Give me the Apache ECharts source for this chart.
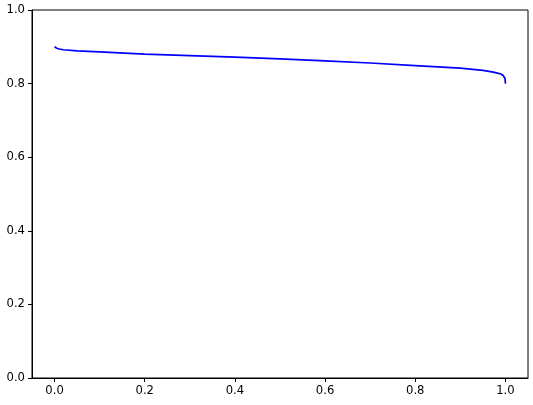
<!DOCTYPE html>
<html>
<head>
<meta charset="utf-8">
<script src="https://cdn.jsdelivr.net/npm/echarts@6/dist/echarts.min.js"></script>
<style>
html, body { margin: 0; padding: 0; background: #fff; }
#main { width: 533px; height: 405px; }
</style>
</head>
<body>
<div id="main"></div>
<script>
// values
var xVals = [0, 0.001, 0.005, 0.01, 0.02, 0.05, 0.1, 0.2, 0.3, 0.4, 0.5, 0.6, 0.7, 0.8, 0.9, 0.95, 0.97, 0.98, 0.99, 0.995, 0.999, 1.0];
var yVals = [0.900, 0.898, 0.896, 0.894, 0.892, 0.889, 0.886, 0.880, 0.876, 0.872, 0.867, 0.862, 0.856, 0.849, 0.842, 0.836, 0.832, 0.829, 0.826, 0.822, 0.814, 0.800];
var xTicks = [0, 0.2, 0.4, 0.6, 0.8, 1.0];
var yTicks = [0, 0.2, 0.4, 0.6, 0.8, 1.0];

var myChart = echarts.init(document.getElementById('main'));

var points = xVals.map(function (x, i) { return [x, yVals[i]]; });
var font = 'DejaVu Sans';

var option = {
	animation: false,
	grid: {
		left: 32, right: 5, top: 10, bottom: 27,
		show: true,
		borderColor: '#000',
		borderWidth: 1
	},
	xAxis: {
		type: 'value',
		min: -0.05,
		max: 1.05,
		splitLine: { show: false },
		axisLine: { show: true, onZero: false, lineStyle: { color: '#000', width: 1 } },
		axisTick: { show: true, inside: false, length: 4, lineStyle: { color: '#000' }, customValues: xTicks },
		axisLabel: {
			customValues: xTicks,
			margin: 7,
			color: '#000',
			fontFamily: font,
			fontSize: 11.6,
			formatter: function (v) { return v.toFixed(1); }
		}
	},
	yAxis: {
		type: 'value',
		min: 0,
		max: 1,
		interval: 0.2,
		splitLine: { show: false },
		axisLine: { show: true, onZero: false, lineStyle: { color: '#000', width: 1 } },
		axisTick: { show: true, inside: false, length: 4, lineStyle: { color: '#000' } },
		axisLabel: {
			margin: 7,
			color: '#000',
			fontFamily: font,
			fontSize: 11.6,
			formatter: function (v) { return v.toFixed(1); }
		}
	},
	series: [{
		type: 'line',
		data: points,
		showSymbol: false,
		smooth: false,
		lineStyle: { color: '#0000ff', width: 1.7 }
	}]
};
myChart.setOption(option);
</script>
</body>
</html>
